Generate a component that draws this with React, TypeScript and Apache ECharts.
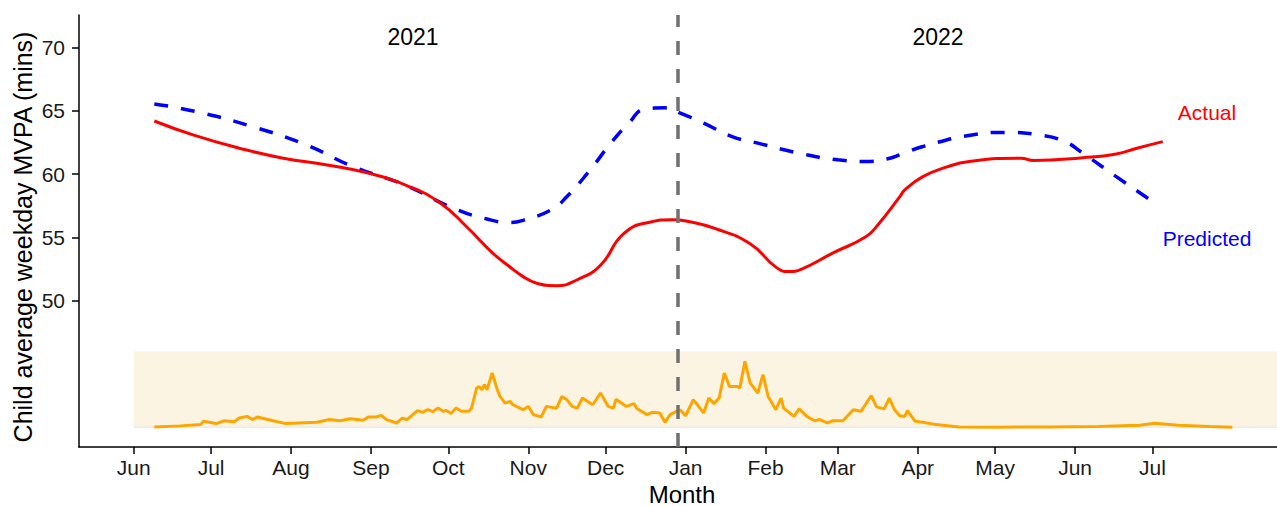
import React, { useEffect, useRef } from "react";
import * as echarts from "echarts";

const MONTH_NAMES = ["Jan", "Feb", "Mar", "Apr", "May", "Jun", "Jul", "Aug", "Sep", "Oct", "Nov", "Dec"];

const monthTicks: string[] = [
  "2021-06-01", "2021-07-01", "2021-08-01", "2021-09-01", "2021-10-01", "2021-11-01", "2021-12-01",
  "2022-01-01", "2022-02-01", "2022-03-01", "2022-04-01", "2022-05-01", "2022-06-01", "2022-07-01",
];

const yTicks: number[] = [50, 55, 60, 65, 70];

const actual: [string, number][] = [
  ["2021-06-09", 64.2], ["2021-06-24", 63.1], ["2021-07-12", 62.05], ["2021-07-29", 61.26],
  ["2021-08-15", 60.73], ["2021-08-31", 60.08], ["2021-09-16", 59.0], ["2021-09-28", 57.7],
  ["2021-10-08", 55.86], ["2021-10-18", 53.8], ["2021-10-24", 52.8], ["2021-10-30", 51.9],
  ["2021-11-04", 51.4], ["2021-11-12", 51.18], ["2021-11-20", 51.65], ["2021-11-29", 52.8],
  ["2021-12-08", 55.3], ["2021-12-18", 56.2], ["2021-12-27", 56.4], ["2022-01-02", 56.26],
  ["2022-01-12", 55.73], ["2022-01-26", 54.5], ["2022-02-05", 52.65], ["2022-02-10", 52.3],
  ["2022-02-15", 52.5], ["2022-02-27", 53.76], ["2022-03-12", 55.07], ["2022-03-17", 56.1],
  ["2022-03-25", 58.2], ["2022-03-27", 58.76], ["2022-04-03", 59.8], ["2022-04-12", 60.55],
  ["2022-04-21", 61.0], ["2022-05-11", 61.26], ["2022-05-16", 61.07], ["2022-06-04", 61.3],
  ["2022-06-17", 61.6], ["2022-06-25", 62.05], ["2022-07-05", 62.57],
];

const predicted: [string, number][] = [
  ["2021-06-09", 65.55], ["2021-06-25", 64.95], ["2021-07-17", 63.76], ["2021-08-07", 62.3],
  ["2021-08-25", 60.6], ["2021-09-14", 59.15], ["2021-10-03", 57.3], ["2021-10-16", 56.45],
  ["2021-10-25", 56.18], ["2021-10-30", 56.35], ["2021-11-10", 57.2], ["2021-11-16", 58.23],
  ["2021-11-25", 60.34], ["2021-12-03", 62.45], ["2021-12-10", 64.03], ["2021-12-16", 65.13],
  ["2021-12-24", 65.24], ["2021-12-30", 64.82], ["2022-01-08", 64.03], ["2022-01-19", 62.97],
  ["2022-01-29", 62.45], ["2022-02-14", 61.66], ["2022-03-01", 61.13], ["2022-03-12", 61.0],
  ["2022-03-20", 61.2], ["2022-03-26", 61.6], ["2022-04-03", 62.18], ["2022-04-22", 63.1],
  ["2022-05-05", 63.3], ["2022-05-18", 63.1], ["2022-05-28", 62.57], ["2022-06-04", 61.66],
  ["2022-06-17", 59.8], ["2022-07-03", 57.57],
];

// COVID-19 cases, drawn on a rescaled band (40 = none, 46 = band top)
const covid: [string, number][] = [
  ["2021-06-09", 40.02], ["2021-06-19", 40.1], ["2021-06-27", 40.2], ["2021-06-28", 40.46],
  ["2021-07-03", 40.28], ["2021-07-06", 40.5], ["2021-07-10", 40.43], ["2021-07-12", 40.73],
  ["2021-07-15", 40.85], ["2021-07-17", 40.6], ["2021-07-19", 40.8], ["2021-07-23", 40.6],
  ["2021-07-25", 40.5], ["2021-07-30", 40.28], ["2021-08-04", 40.33], ["2021-08-11", 40.38],
  ["2021-08-16", 40.6], ["2021-08-20", 40.5], ["2021-08-24", 40.67], ["2021-08-29", 40.54],
  ["2021-08-31", 40.8], ["2021-09-03", 40.8], ["2021-09-05", 40.93], ["2021-09-07", 40.6],
  ["2021-09-11", 40.33], ["2021-09-13", 40.7], ["2021-09-15", 40.6], ["2021-09-19", 41.3],
  ["2021-09-21", 41.17], ["2021-09-23", 41.38], ["2021-09-25", 41.22], ["2021-09-27", 41.52],
  ["2021-09-29", 41.25], ["2021-09-30", 41.33], ["2021-10-02", 41.07], ["2021-10-04", 41.52],
  ["2021-10-06", 41.25], ["2021-10-09", 41.25], ["2021-10-10", 41.5], ["2021-10-12", 43.1],
  ["2021-10-13", 43.2], ["2021-10-14", 42.96], ["2021-10-15", 43.36], ["2021-10-16", 42.96],
  ["2021-10-18", 44.28], ["2021-10-20", 42.96], ["2021-10-21", 42.43], ["2021-10-23", 41.9],
  ["2021-10-25", 42.03], ["2021-10-26", 41.77], ["2021-10-30", 41.38], ["2021-11-01", 41.64],
  ["2021-11-03", 40.99], ["2021-11-06", 40.8], ["2021-11-08", 41.64], ["2021-11-12", 41.5],
  ["2021-11-14", 42.43], ["2021-11-16", 42.17], ["2021-11-18", 41.64], ["2021-11-20", 41.5],
  ["2021-11-22", 42.3], ["2021-11-24", 42.03], ["2021-11-26", 41.77], ["2021-11-29", 42.7],
  ["2021-12-02", 41.64], ["2021-12-04", 41.5], ["2021-12-05", 42.2], ["2021-12-09", 41.64],
  ["2021-12-12", 41.86], ["2021-12-13", 41.5], ["2021-12-17", 40.99], ["2021-12-19", 41.17],
  ["2021-12-22", 41.12], ["2021-12-24", 40.38], ["2021-12-26", 40.99], ["2021-12-29", 41.3],
  ["2021-12-30", 41.33], ["2022-01-01", 40.9], ["2022-01-04", 42.17], ["2022-01-08", 41.12],
  ["2022-01-10", 42.3], ["2022-01-12", 41.86], ["2022-01-14", 42.3], ["2022-01-16", 44.28],
  ["2022-01-18", 43.22], ["2022-01-21", 43.22], ["2022-01-22", 43.1], ["2022-01-24", 45.2],
  ["2022-01-26", 43.5], ["2022-01-29", 42.7], ["2022-01-31", 44.15], ["2022-02-02", 42.43],
  ["2022-02-05", 41.38], ["2022-02-07", 42.3], ["2022-02-08", 41.5], ["2022-02-12", 40.85],
  ["2022-02-14", 41.44], ["2022-02-17", 40.85], ["2022-02-20", 40.5], ["2022-02-22", 40.6],
  ["2022-02-25", 40.33], ["2022-02-27", 40.5], ["2022-03-03", 40.5], ["2022-03-07", 41.38],
  ["2022-03-10", 41.25], ["2022-03-14", 42.49], ["2022-03-16", 41.6], ["2022-03-19", 41.44],
  ["2022-03-21", 42.3], ["2022-03-23", 41.38], ["2022-03-25", 40.9], ["2022-03-27", 40.85],
  ["2022-03-28", 41.3], ["2022-03-31", 40.46], ["2022-04-03", 40.38], ["2022-04-08", 40.2],
  ["2022-04-17", 40.02], ["2022-05-02", 40.0], ["2022-05-22", 40.02], ["2022-06-10", 40.05],
  ["2022-06-26", 40.15], ["2022-07-02", 40.3], ["2022-07-11", 40.15], ["2022-07-23", 40.05],
  ["2022-08-01", 40.0],
];

const DAY = 86400000;
const t = (s: string) => Date.parse(s + "T00:00:00Z");
const X_MIN = t("2021-06-01") - 21.2 * DAY;
const X_MAX = t("2021-06-01") + 443.3 * DAY;
const Y_MIN = 38.43;
const Y_MAX = 72.58;
const BAND_START = "2021-06-01";
const BAND_LOW = 40;
const BAND_HIGH = 46;
const YEAR_SPLIT = "2021-12-29";

const FONT = "'Liberation Sans', Arial, Helvetica, sans-serif";

export default function App() {
  const ref = useRef<HTMLDivElement>(null);
  useEffect(() => {
    if (!ref.current) return;
    const chart = echarts.init(ref.current, null, { renderer: "svg" });
    const toPts = (arr: [string, number][]) => arr.map(([d, v]) => [t(d), v]);
    const axisLineStyle = { color: "#000", width: 1.5 };
    const textStyle = (text: string, fill: string, size: number) => ({
      text,
      fill,
      fontSize: size,
      fontFamily: FONT,
      align: "center",
      verticalAlign: "middle",
    });
    chart.setOption({
      animation: false,
      textStyle: { fontFamily: FONT },
      grid: { left: 79, right: 0, top: 15, bottom: 59, outerBoundsMode: "none" },
      xAxis: {
        type: "value",
        min: X_MIN,
        max: X_MAX,
        axisLine: { show: true, lineStyle: axisLineStyle },
        axisTick: { show: true, length: 7, lineStyle: axisLineStyle, customValues: monthTicks.map(t) },
        axisLabel: {
          customValues: monthTicks.map(t),
          formatter: (v: number) => MONTH_NAMES[new Date(v).getUTCMonth()],
          fontSize: 21,
          color: "#1a1a1a",
          margin: 10,
          fontFamily: FONT,
        },
        splitLine: { show: false },
      },
      yAxis: {
        type: "value",
        min: Y_MIN,
        max: Y_MAX,
        axisLine: { show: true, lineStyle: axisLineStyle },
        axisTick: { show: true, length: 7, lineStyle: axisLineStyle, customValues: yTicks },
        axisLabel: { customValues: yTicks, fontSize: 21, color: "#1a1a1a", margin: 14, fontFamily: FONT },
        splitLine: { show: false },
      },
      graphic: [
        { type: "text", x: 23, y: 237, rotation: Math.PI / 2, style: textStyle("Child average weekday MVPA (mins)", "#000", 25) },
        { type: "text", x: 682, y: 494, style: textStyle("Month", "#000", 24) },
        { type: "text", x: 413, y: 37, style: textStyle("2021", "#000", 23) },
        { type: "text", x: 938, y: 37, style: textStyle("2022", "#000", 23) },
        { type: "text", x: 1207, y: 112, style: textStyle("Actual", "#FF0000", 21) },
        { type: "text", x: 1207, y: 238, style: textStyle("Predicted", "#0000FF", 21) },
        { type: "text", x: 1207, y: 376, style: textStyle("COVID-19", "#CD6600", 21) },
        { type: "text", x: 1207, y: 407, style: textStyle("cases", "#CD6600", 21) },
      ],
      series: [
        {
          name: "bandEdge",
          type: "line",
          data: [[t(BAND_START), BAND_LOW], [X_MAX, BAND_LOW]],
          showSymbol: false,
          symbol: "none",
          lineStyle: { color: "#E3E3E3", width: 1 },
          silent: true,
          z: 1,
          markArea: {
            silent: true,
            itemStyle: { color: "#FCF4E3" },
            data: [[{ xAxis: t(BAND_START), yAxis: BAND_LOW }, { xAxis: X_MAX, yAxis: BAND_HIGH }]],
          },
        },
        {
          name: "COVID-19 cases",
          type: "line",
          data: toPts(covid),
          showSymbol: false,
          symbol: "none",
          lineStyle: { color: "#FFA500", width: 3 },
          z: 3,
        },
        {
          name: "Predicted",
          type: "line",
          data: toPts(predicted),
          smooth: 0.5,
          showSymbol: false,
          symbol: "none",
          lineStyle: { color: "#0000FF", width: 3.5, type: [14, 13] },
          z: 3,
        },
        {
          name: "Actual",
          type: "line",
          data: toPts(actual),
          smooth: 0.5,
          showSymbol: false,
          symbol: "none",
          lineStyle: { color: "#FF0000", width: 3 },
          z: 3,
        },
        {
          name: "split",
          type: "line",
          data: [],
          z: 4,
          markLine: {
            silent: true,
            symbol: "none",
            label: { show: false },
            lineStyle: { color: "#707070", width: 3.5, type: [14, 14] },
            data: [{ xAxis: t(YEAR_SPLIT) }],
          },
        },
      ],
    });
    return () => chart.dispose();
  }, []);
  return (
    <div
      ref={ref}
      style={{ position: "fixed", left: 0, top: 0, width: 1277, height: 506, background: "#fff" }}
    />
  );
}
